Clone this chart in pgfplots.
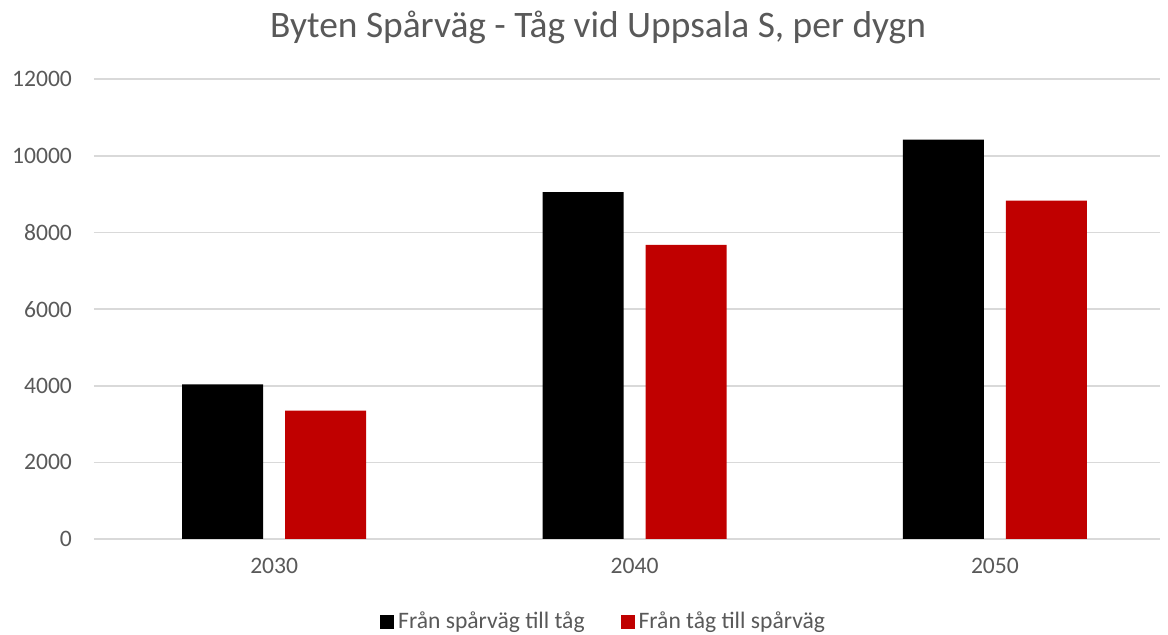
\documentclass[border=0pt]{standalone}
\usepackage{pgfplots}
\pgfplotsset{compat=1.18}
\usepackage{fontspec}
\setmainfont{Carlito}
\definecolor{txt}{HTML}{595959}
\definecolor{gridc}{HTML}{D9D9D9}
\definecolor{redc}{HTML}{C00000}
\begin{document}
\begin{tikzpicture}
\path[use as bounding box] (-47pt,-48pt) rectangle (537pt,269.5pt);
\begin{axis}[
  at={(0pt,0pt)}, anchor=south west,
  scale only axis, width=533pt, height=229.85pt,
  ybar, bar width=40.5pt, ybar=11pt,
  xmin=-0.5, xmax=2.458, ymin=0, ymax=12000,
  xtick=data, xticklabels={2030,2040,2050},
  ytick={0,2000,...,12000},
  scaled y ticks=false,
  /pgf/number format/assume math mode=true,
  yticklabel={\pgfmathprintnumber[fixed,1000 sep={}]{\tick}},
  ymajorgrids, grid style={gridc, line width=0.8pt},
  axis x line*=bottom, axis y line*=left,
  x axis line style={gridc, line width=0.8pt, -},
  y axis line style={draw=none},
  major tick length=0pt,
  tick label style={font=\fontsize{11.8pt}{14pt}\selectfont, text=txt},
  yticklabel style={xshift=-7.5pt},
  xticklabel style={yshift=-6pt},
  title={Byten Spårväg - Tåg vid Uppsala S, per dygn},
  title style={at={(axis description cs:0.4728,1)}, anchor=center, yshift=20pt, font=\fontsize{18.7pt}{22pt}\selectfont, text=txt},
  legend style={at={(axis description cs:0.479,-0.1806)}, anchor=center, draw=none, legend columns=2, font=\fontsize{11.8pt}{14pt}\selectfont, text=txt, /tikz/every even column/.append style={column sep=16pt}},
  legend image code/.code={\fill[#1] (-1pt,-3.5pt) rectangle (6pt,3.5pt);},
]
\addplot[fill=black, draw=none] coordinates {(0,4035) (1,9052) (2,10426)};
\addplot[fill=redc, draw=none] coordinates {(0,3350) (1,7676) (2,8833)};
\legend{Från spårväg till tåg, Från tåg till spårväg}
\end{axis}
\end{tikzpicture}
\end{document}
